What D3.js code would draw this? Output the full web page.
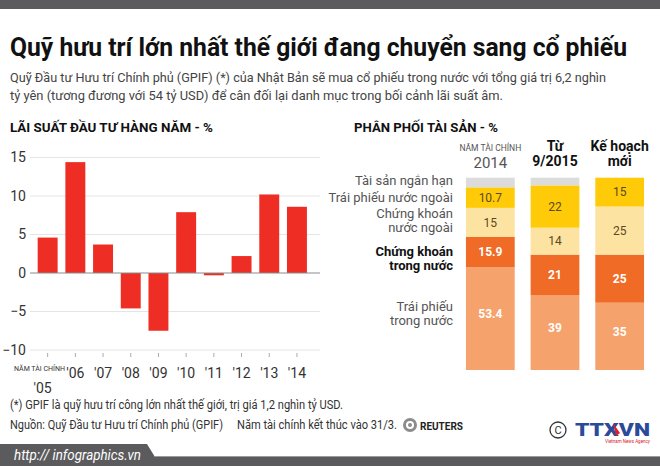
<!DOCTYPE html>
<html>
<head>
<meta charset="utf-8">
<script src="https://cdn.jsdelivr.net/npm/d3@7/dist/d3.min.js"></script>
<style>
  body { margin: 0; background: #fff; }
  svg { display: block; }
  text { font-family: Roboto, "Open Sans", sans-serif; }
</style>
</head>
<body>
<div id="chart"></div>
<script>
// annual investment return, fiscal years
const years = ["'05", "'06", "'07", "'08", "'09", "'10", "'11", "'12", "'13", "'14"];
const annualReturn = [4.6, 14.4, 3.7, -4.6, -7.5, 7.9, -0.3, 2.2, 10.2, 8.6];
const returnTicks = [15, 10, 5, 0, -5, -10];

// asset allocation, % (top of the column first)
const assetClasses = ["short", "foreignBonds", "foreignStocks", "domesticStocks", "domesticBonds"];
const assetLabels = [
  ["Tài sản ngắn hạn"],
  ["Trái phiếu nước ngoài"],
  ["Chứng khoán", "nước ngoài"],
  ["Chứng khoán", "trong nước"],
  ["Trái phiếu", "trong nước"]
];
const periods = ["fy2014", "sep2015", "newPlan"];
const alloc2014 = [5, 10.7, 15, 15.9, 53.4];
const alloc2015 = [4, 22, 14, 21, 39];
const allocNew = [0, 15, 25, 25, 35];

const assetColors = ["#dcdcdc", "#ffca08", "#fde3a1", "#ef6b26", "#f5a26c"];

const width = 660, height = 466;

const svg = d3.select("#chart").append("svg")
    .attr("width", width)
    .attr("height", height);

// top band
svg.append("rect")
    .attr("x", 0).attr("y", 0)
    .attr("width", width).attr("height", 9)
    .attr("fill", "#5b5b5d");

// title and intro
svg.append("text")
    .attr("x", 10).attr("y", 56)
    .attr("font-size", 26).attr("font-weight", "bold")
    .attr("fill", "#111")
    .attr("textLength", 617).attr("lengthAdjust", "spacingAndGlyphs")
    .text("Quỹ hưu trí lớn nhất thế giới đang chuyển sang cổ phiếu");

svg.append("text")
    .attr("x", 10).attr("y", 82)
    .attr("font-size", 13.5).attr("fill", "#444")
    .attr("textLength", 596).attr("lengthAdjust", "spacingAndGlyphs")
    .text("Quỹ Đầu tư Hưu trí Chính phủ (GPIF) (*) của Nhật Bản sẽ mua cổ phiếu trong nước với tổng giá trị 6,2 nghìn");

svg.append("text")
    .attr("x", 10).attr("y", 100)
    .attr("font-size", 13.5).attr("fill", "#444")
    .attr("textLength", 493).attr("lengthAdjust", "spacingAndGlyphs")
    .text("tỷ yên (tương đương với 54 tỷ USD) để cân đối lại danh mục trong bối cảnh lãi suất âm.");

// ---------- left: annual return bars ----------
const x = d3.scaleBand()
    .domain(years)
    .range([33.8, 310.8])
    .paddingInner(0.28)
    .paddingOuter(0.14);

const y = d3.scaleLinear()
    .domain([-10, 15])
    .range([350, 157.5]);

const left = svg.append("g");

left.append("text")
    .attr("x", 10).attr("y", 132)
    .attr("font-size", 13).attr("font-weight", "bold")
    .attr("fill", "#111")
    .attr("textLength", 203).attr("lengthAdjust", "spacingAndGlyphs")
    .text("LÃI SUẤT ĐẦU TƯ HÀNG NĂM -  %");

const yAxis = d3.axisLeft(y)
    .tickValues(returnTicks)
    .tickSize(0)
    .tickPadding(0);

left.append("g")
    .attr("transform", "translate(26,0)")
    .call(yAxis)
    .call(g => g.select(".domain").remove())
    .call(g => g.selectAll("text")
        .attr("font-size", 14)
        .attr("fill", "#333")
        .attr("font-family", "Roboto, sans-serif"));

// grid lines
left.append("g")
  .selectAll("line")
  .data(returnTicks.filter(d => d !== 0))
  .join("line")
    .attr("x1", 30).attr("x2", 320)
    .attr("y1", d => y(d)).attr("y2", d => y(d))
    .attr("stroke", "#e4e4e4")
    .attr("stroke-width", 1);

// bars
left.append("g")
  .selectAll("rect")
  .data(years)
  .join("rect")
    .attr("x", d => x(d))
    .attr("width", x.bandwidth())
    .attr("y", (d, i) => y(Math.max(0, annualReturn[i])))
    .attr("height", (d, i) => Math.abs(y(annualReturn[i]) - y(0)))
    .attr("fill", "#ee2e24");

// zero line
left.append("line")
    .attr("x1", 30).attr("x2", 320)
    .attr("y1", y(0)).attr("y2", y(0))
    .attr("stroke", "#8a8a8a")
    .attr("stroke-width", 1);

// x axis ticks and labels
const xAxis = d3.axisBottom(x)
    .tickSize(4)
    .tickPadding(11);

left.append("g")
    .attr("transform", "translate(0,353)")
    .call(xAxis)
    .call(g => g.select(".domain").remove())
    .call(g => g.selectAll(".tick line").attr("stroke", "#aaa"))
    .call(g => g.selectAll("text")
        .attr("font-size", 14)
        .attr("fill", "#333")
        .attr("font-family", "Roboto, sans-serif"))
    .call(g => g.selectAll(".tick").filter((d, i) => i === 0).select("text")
        .attr("dx", -5)
        .attr("dy", "1.81em"));

left.append("text")
    .attr("x", 14).attr("y", 371)
    .attr("font-size", 7.5)
    .attr("fill", "#333")
    .attr("textLength", 51).attr("lengthAdjust", "spacingAndGlyphs")
    .text("NĂM TÀI CHÍNH");

// ---------- right: asset allocation columns ----------
const allocs = [alloc2014, alloc2015, allocNew];
const rows = periods.map((p, j) => {
  const row = { period: p };
  assetClasses.forEach((k, i) => { row[k] = allocs[j][i]; });
  return row;
});

const stack = d3.stack().keys(assetClasses.slice().reverse());
const series = stack(rows);

const xc = d3.scaleBand()
    .domain(periods)
    .range([458, 652])
    .paddingInner(0.246)
    .paddingOuter(0.123);

const yc = d3.scaleLinear()
    .domain([0, 100])
    .range([370, 177.7]);

const right = svg.append("g");

right.append("text")
    .attr("x", 354).attr("y", 132)
    .attr("font-size", 13).attr("font-weight", "bold")
    .attr("fill", "#111")
    .attr("textLength", 144).attr("lengthAdjust", "spacingAndGlyphs")
    .text("PHÂN PHỐI TÀI SẢN - %");

right.append("g")
  .selectAll("g")
  .data(series)
  .join("g")
    .attr("fill", s => assetColors[assetClasses.indexOf(s.key)])
  .selectAll("rect")
  .data(s => s)
  .join("rect")
    .attr("x", d => xc(d.data.period))
    .attr("width", xc.bandwidth())
    .attr("y", d => yc(d[1]))
    .attr("height", d => yc(d[0]) - yc(d[1]));

// value labels inside the segments
const valueData = [];
series.forEach(s => {
  const ci = assetClasses.indexOf(s.key);
  if (ci === 0) return;
  s.forEach(d => valueData.push({ ci, d, v: d.data[s.key] }));
});

right.append("g")
  .selectAll("text")
  .data(valueData)
  .join("text")
    .attr("x", o => xc(o.d.data.period) + xc.bandwidth() / 2)
    .attr("y", o => (yc(o.d[0]) + yc(o.d[1])) / 2 - (o.v > 30 ? 5 : 0))
    .attr("dy", "0.35em")
    .attr("text-anchor", "middle")
    .attr("font-size", 12)
    .attr("font-weight", o => o.ci >= 3 ? "bold" : "normal")
    .attr("fill", o => o.ci >= 3 ? "#fff" : "#5a4a22")
    .text(o => String(o.v));

// class labels to the left, aligned with the 2014 column
const classLabels = assetClasses.map((k, i) => {
  const s = series.find(t => t.key === k)[0];
  return { i, lines: assetLabels[i], cy: (yc(s[0]) + yc(s[1])) / 2 };
});
const labelNudge = [-2, 0, -2, 6, -5];
const lineGap = 14;

// one text element per line
const labelLines = [];
classLabels.forEach(d => {
  d.lines.forEach((t, k) => {
    labelLines.push({
      i: d.i, t,
      cy: d.cy + labelNudge[d.i] + (k - (d.lines.length - 1) / 2) * lineGap
    });
  });
});

right.append("g")
  .selectAll("text")
  .data(labelLines)
  .join("text")
    .attr("x", 453)
    .attr("y", o => o.cy)
    .attr("dy", "0.35em")
    .attr("text-anchor", "end")
    .attr("font-size", 13)
    .attr("fill", o => o.i === 3 ? "#111" : "#555")
    .attr("font-weight", o => o.i === 3 ? "bold" : "normal")
    .text(o => o.t);

// column headers
const hx = p => xc(p) + xc.bandwidth() / 2;
right.append("text")
    .attr("x", hx("fy2014")).attr("y", 151)
    .attr("text-anchor", "middle")
    .attr("font-size", 8.5).attr("fill", "#555")
    .text("NĂM TÀI CHÍNH");
right.append("text")
    .attr("x", hx("fy2014")).attr("y", 168)
    .attr("text-anchor", "middle")
    .attr("font-size", 15).attr("fill", "#555")
    .text("2014");

[["sep2015", "Từ", "9/2015"], ["newPlan", "Kế hoạch", "mới"]].forEach(([p, a, b]) => {
  right.append("text")
      .attr("x", hx(p)).attr("y", 151)
      .attr("text-anchor", "middle")
      .attr("font-size", 14).attr("font-weight", "bold").attr("fill", "#111")
      .text(a);
  right.append("text")
      .attr("x", hx(p)).attr("y", 166)
      .attr("text-anchor", "middle")
      .attr("font-size", 14).attr("font-weight", "bold").attr("fill", "#111")
      .text(b);
});

// ---------- footer ----------
svg.append("text")
    .attr("x", 10).attr("y", 409)
    .attr("font-size", 12).attr("fill", "#333")
    .attr("textLength", 333).attr("lengthAdjust", "spacingAndGlyphs")
    .text("(*) GPIF là quỹ hưu trí công lớn nhất thế giới, trị giá 1,2 nghìn tỷ USD.");

svg.append("text")
    .attr("x", 10).attr("y", 429)
    .attr("font-size", 12).attr("fill", "#333")
    .attr("textLength", 213).attr("lengthAdjust", "spacingAndGlyphs")
    .text("Nguồn: Quỹ Đầu tư Hưu trí Chính phủ (GPIF)");

svg.append("text")
    .attr("x", 237).attr("y", 429)
    .attr("font-size", 12).attr("fill", "#333")
    .attr("textLength", 160).attr("lengthAdjust", "spacingAndGlyphs")
    .text("Năm tài chính kết thúc vào 31/3.");

// reuters mark
const reuters = svg.append("g").attr("transform", "translate(410,425)");
reuters.append("circle").attr("r", 7).attr("fill", "#8c8c8c");
reuters.append("circle").attr("r", 4).attr("fill", "#fff");
reuters.append("circle").attr("r", 2).attr("fill", "#8c8c8c");
reuters.append("text")
    .attr("x", 10).attr("y", 4.5)
    .attr("font-size", 11).attr("font-weight", "bold").attr("fill", "#222")
    .attr("textLength", 43).attr("lengthAdjust", "spacingAndGlyphs")
    .text("REUTERS");

// TTXVN mark
const ttx = svg.append("g").attr("transform", "translate(558,430)");
ttx.append("circle").attr("r", 8).attr("fill", "none").attr("stroke", "#333").attr("stroke-width", 1.3);
ttx.append("text")
    .attr("y", 4).attr("text-anchor", "middle")
    .attr("font-size", 11).attr("fill", "#333")
    .text("C");
ttx.append("text")
    .attr("x", 17).attr("y", 6)
    .attr("font-size", 18).attr("font-weight", "900").attr("fill", "#2b4a9a")
    .attr("textLength", 75).attr("lengthAdjust", "spacingAndGlyphs")
    .text("TTXVN");
ttx.append("path")
    .attr("d", "M55,-7 L62,3 L58,6 Z")
    .attr("fill", "#d8232a");
ttx.append("text")
    .attr("x", 92).attr("y", 13)
    .attr("text-anchor", "end")
    .attr("font-size", 4.5).attr("fill", "#d8232a")
    .text("Vietnam News Agency");

// bottom band with tab
svg.append("path")
    .attr("d", "M0,444 L147,444 L155,457 L660,457 L660,466 L0,466 Z")
    .attr("fill", "#5b5b5d");
svg.append("line")
    .attr("x1", 155).attr("x2", 660).attr("y1", 456.5).attr("y2", 456.5)
    .attr("stroke", "#9a9a9a").attr("stroke-width", 1);

svg.append("text")
    .attr("x", 14).attr("y", 460)
    .attr("font-size", 14).attr("font-style", "italic").attr("fill", "#fff")
    .attr("textLength", 127).attr("lengthAdjust", "spacingAndGlyphs")
    .text("http:// infographics.vn");
</script>
</body>
</html>
